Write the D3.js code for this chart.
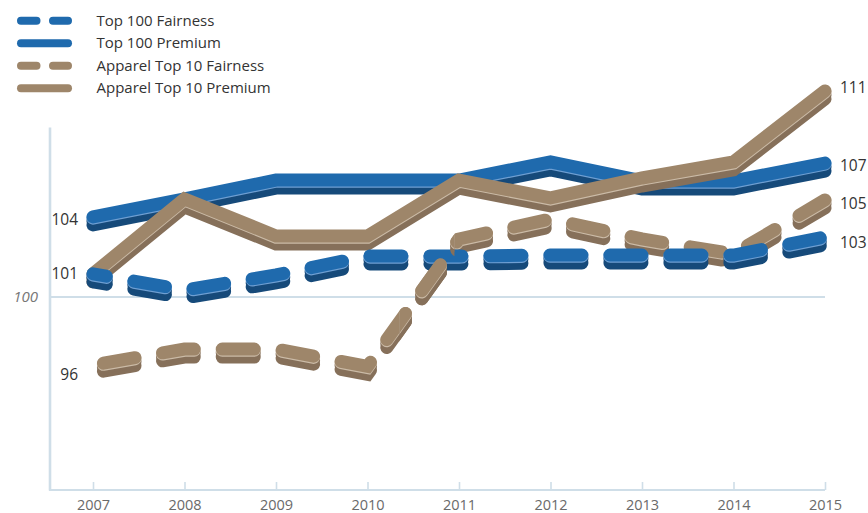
<!DOCTYPE html>
<html><head><meta charset="utf-8">
<script src="https://cdn.jsdelivr.net/npm/d3@7"></script>
<style>
body{margin:0;background:#fff}
svg{display:block}
text{font-family:"Open Sans",sans-serif}
</style>
</head><body>
<svg id="c" width="868" height="513"></svg>
<script>
// ---- data ----
const years = [2007, 2008, 2009, 2010, 2011, 2012, 2013, 2014, 2015];
const top100Fairness  = [101.25, 100.38, 101.19, 102.22, 102.22, 102.27, 102.27, 102.27, 103.25];
const top100Premium   = [104.33, 105.31, 106.33, 106.33, 106.33, 107.31, 106.28, 106.28, 107.25];
const apparelFairness = [96.32, 97.18, 97.18, 96.24, 103.14, 104.22, 103.14, 102.33, 105.25];
const apparelPremium  = [101.25, 105.31, 103.30, 103.30, 106.33, 105.36, 106.44, 107.31, 111.15];
const seriesNames = ["Top 100 Fairness", "Top 100 Premium", "Apparel Top 10 Fairness", "Apparel Top 10 Premium"];
const startLabels = ["101", "104", "96", null];
const endLabels   = ["103", "107", "105", "111"];
const xTickLabels = ["2007","2008","2009","2010","2011","2012","2013","2014","2015"];
const baselineValue = 100;
const baselineLabel = "100";

// ---- styles ----
const BLUE = {face:"#1f6aad", shadow:"#164a7a", hi:"#6f9fd2"};
const BROWN = {face:"#9e866a", shadow:"#86705a", hi:"#cbbba7"};
const styles = [
  {c:BLUE, dashed:true, off:18.5, startDy:0, endDy:6},
  {c:BLUE, dashed:false, startDy:3, endDy:3},
  {c:BROWN, dashed:true, off:49.4, startDy:10, endDy:4},
  {c:BROWN, dashed:false, startDy:0, endDy:-3}
];
const values = [top100Fairness, top100Premium, apparelFairness, apparelPremium];

const svg = d3.select("#c");
const x = d3.scaleLinear().domain([years[0], years[years.length-1]]).range([93, 825]);
const y = d3.scaleLinear().domain([89.55, 109.2]).range([490, 127]);
const axisColor = "#cfdee8";
const LW = 13, DEPTH = 8;

// y axis
const ya = svg.append("g").attr("transform","translate(49.5,0)")
  .call(d3.axisLeft(y).tickValues([]).tickSizeOuter(0));
ya.select(".domain").attr("stroke", axisColor).attr("stroke-width", 2.6);

// x axis
const xa = svg.append("g").attr("transform", `translate(0,${y.range()[0]})`)
  .call(d3.axisBottom(x).tickValues(years).tickFormat((d,i)=>xTickLabels[i]).tickSize(-8).tickSizeOuter(0).tickPadding(9.5));
xa.select(".domain").remove();
xa.append("line").attr("x1",49).attr("x2",x(years[years.length-1])).attr("y1",0).attr("y2",0)
  .attr("stroke",axisColor).attr("stroke-width",2);
xa.selectAll(".tick line").attr("stroke",axisColor).attr("stroke-width",1.6);
xa.selectAll(".tick text").attr("fill","#6a6a6a").attr("font-size",14.5).attr("font-family","'Open Sans',sans-serif");

// baseline 100
svg.append("line").attr("x1",49).attr("x2",x(years[years.length-1]))
  .attr("y1",y(baselineValue)).attr("y2",y(baselineValue))
  .attr("stroke",axisColor).attr("stroke-width",2);
svg.append("text").attr("x",38).attr("y",y(baselineValue)).attr("dy","0.35em")
  .attr("text-anchor","end").attr("font-size",15).attr("font-style","italic").attr("fill","#777")
  .text(baselineLabel);

const line = d3.line().x((d,i)=>x(years[i])).y(d=>y(d));

// clip for the brown dashed climb 2010->2011 that sits in front of blue dashes
svg.append("clipPath").attr("id","climb").append("rect")
  .attr("x", x(2010.35)).attr("width", x(2010.95)-x(2010.35)).attr("y",0).attr("height",513);

function drawSeries(i, clip) {
  const s = styles[i];
  const g = svg.append("g");
  if (clip) g.attr("clip-path",`url(#${clip})`);
  const d = line(values[i]);
  const layers = [
    {dy:DEPTH, col:s.c.shadow},
    {dy:DEPTH/2, col:s.c.shadow},
    {dy:1.2, col:s.c.hi},
    {dy:0, col:s.c.face}
  ];
  layers.forEach(L=>{
    const p = g.append("path").attr("d", d).attr("transform",`translate(0,${L.dy})`)
      .attr("fill","none").attr("stroke",L.col).attr("stroke-width",LW)
      .attr("stroke-linecap","round").attr("stroke-linejoin","miter").attr("stroke-miterlimit",6);
    if (s.dashed) p.attr("stroke-dasharray","32,28").attr("stroke-dashoffset", s.off);
  });
}
[1,3,2,0].forEach(i=>drawSeries(i));
drawSeries(2, "climb");

// value labels
values.forEach((v,i)=>{
  const s = styles[i];
  if (startLabels[i]) svg.append("text").attr("x",78).attr("y",y(v[0])+s.startDy).attr("dy","0.35em")
    .attr("text-anchor","end").attr("font-size",15.5).attr("fill","#333").text(startLabels[i]);
  if (endLabels[i]) svg.append("text").attr("x",840).attr("y",y(v[v.length-1])+s.endDy).attr("dy","0.35em")
    .attr("text-anchor","start").attr("font-size",15.5).attr("fill","#333").text(endLabels[i]);
});

// legend
const lg = svg.append("g");
const legendOrder = [0,1,2,3];
legendOrder.forEach((i,k)=>{
  const yy = 20.7 + k*22.5;
  const s = styles[i];
  const p = lg.append("line").attr("x1",21).attr("x2",68).attr("y1",yy).attr("y2",yy)
    .attr("stroke",s.c.face).attr("stroke-width",8).attr("stroke-linecap","round");
  if (s.dashed) p.attr("stroke-dasharray","15.5,16.5");
  lg.append("text").attr("x",96.5).attr("y",yy).attr("dy","0.35em")
    .attr("font-size",15).attr("fill","#333").text(seriesNames[i]);
});
</script>
</body></html>
